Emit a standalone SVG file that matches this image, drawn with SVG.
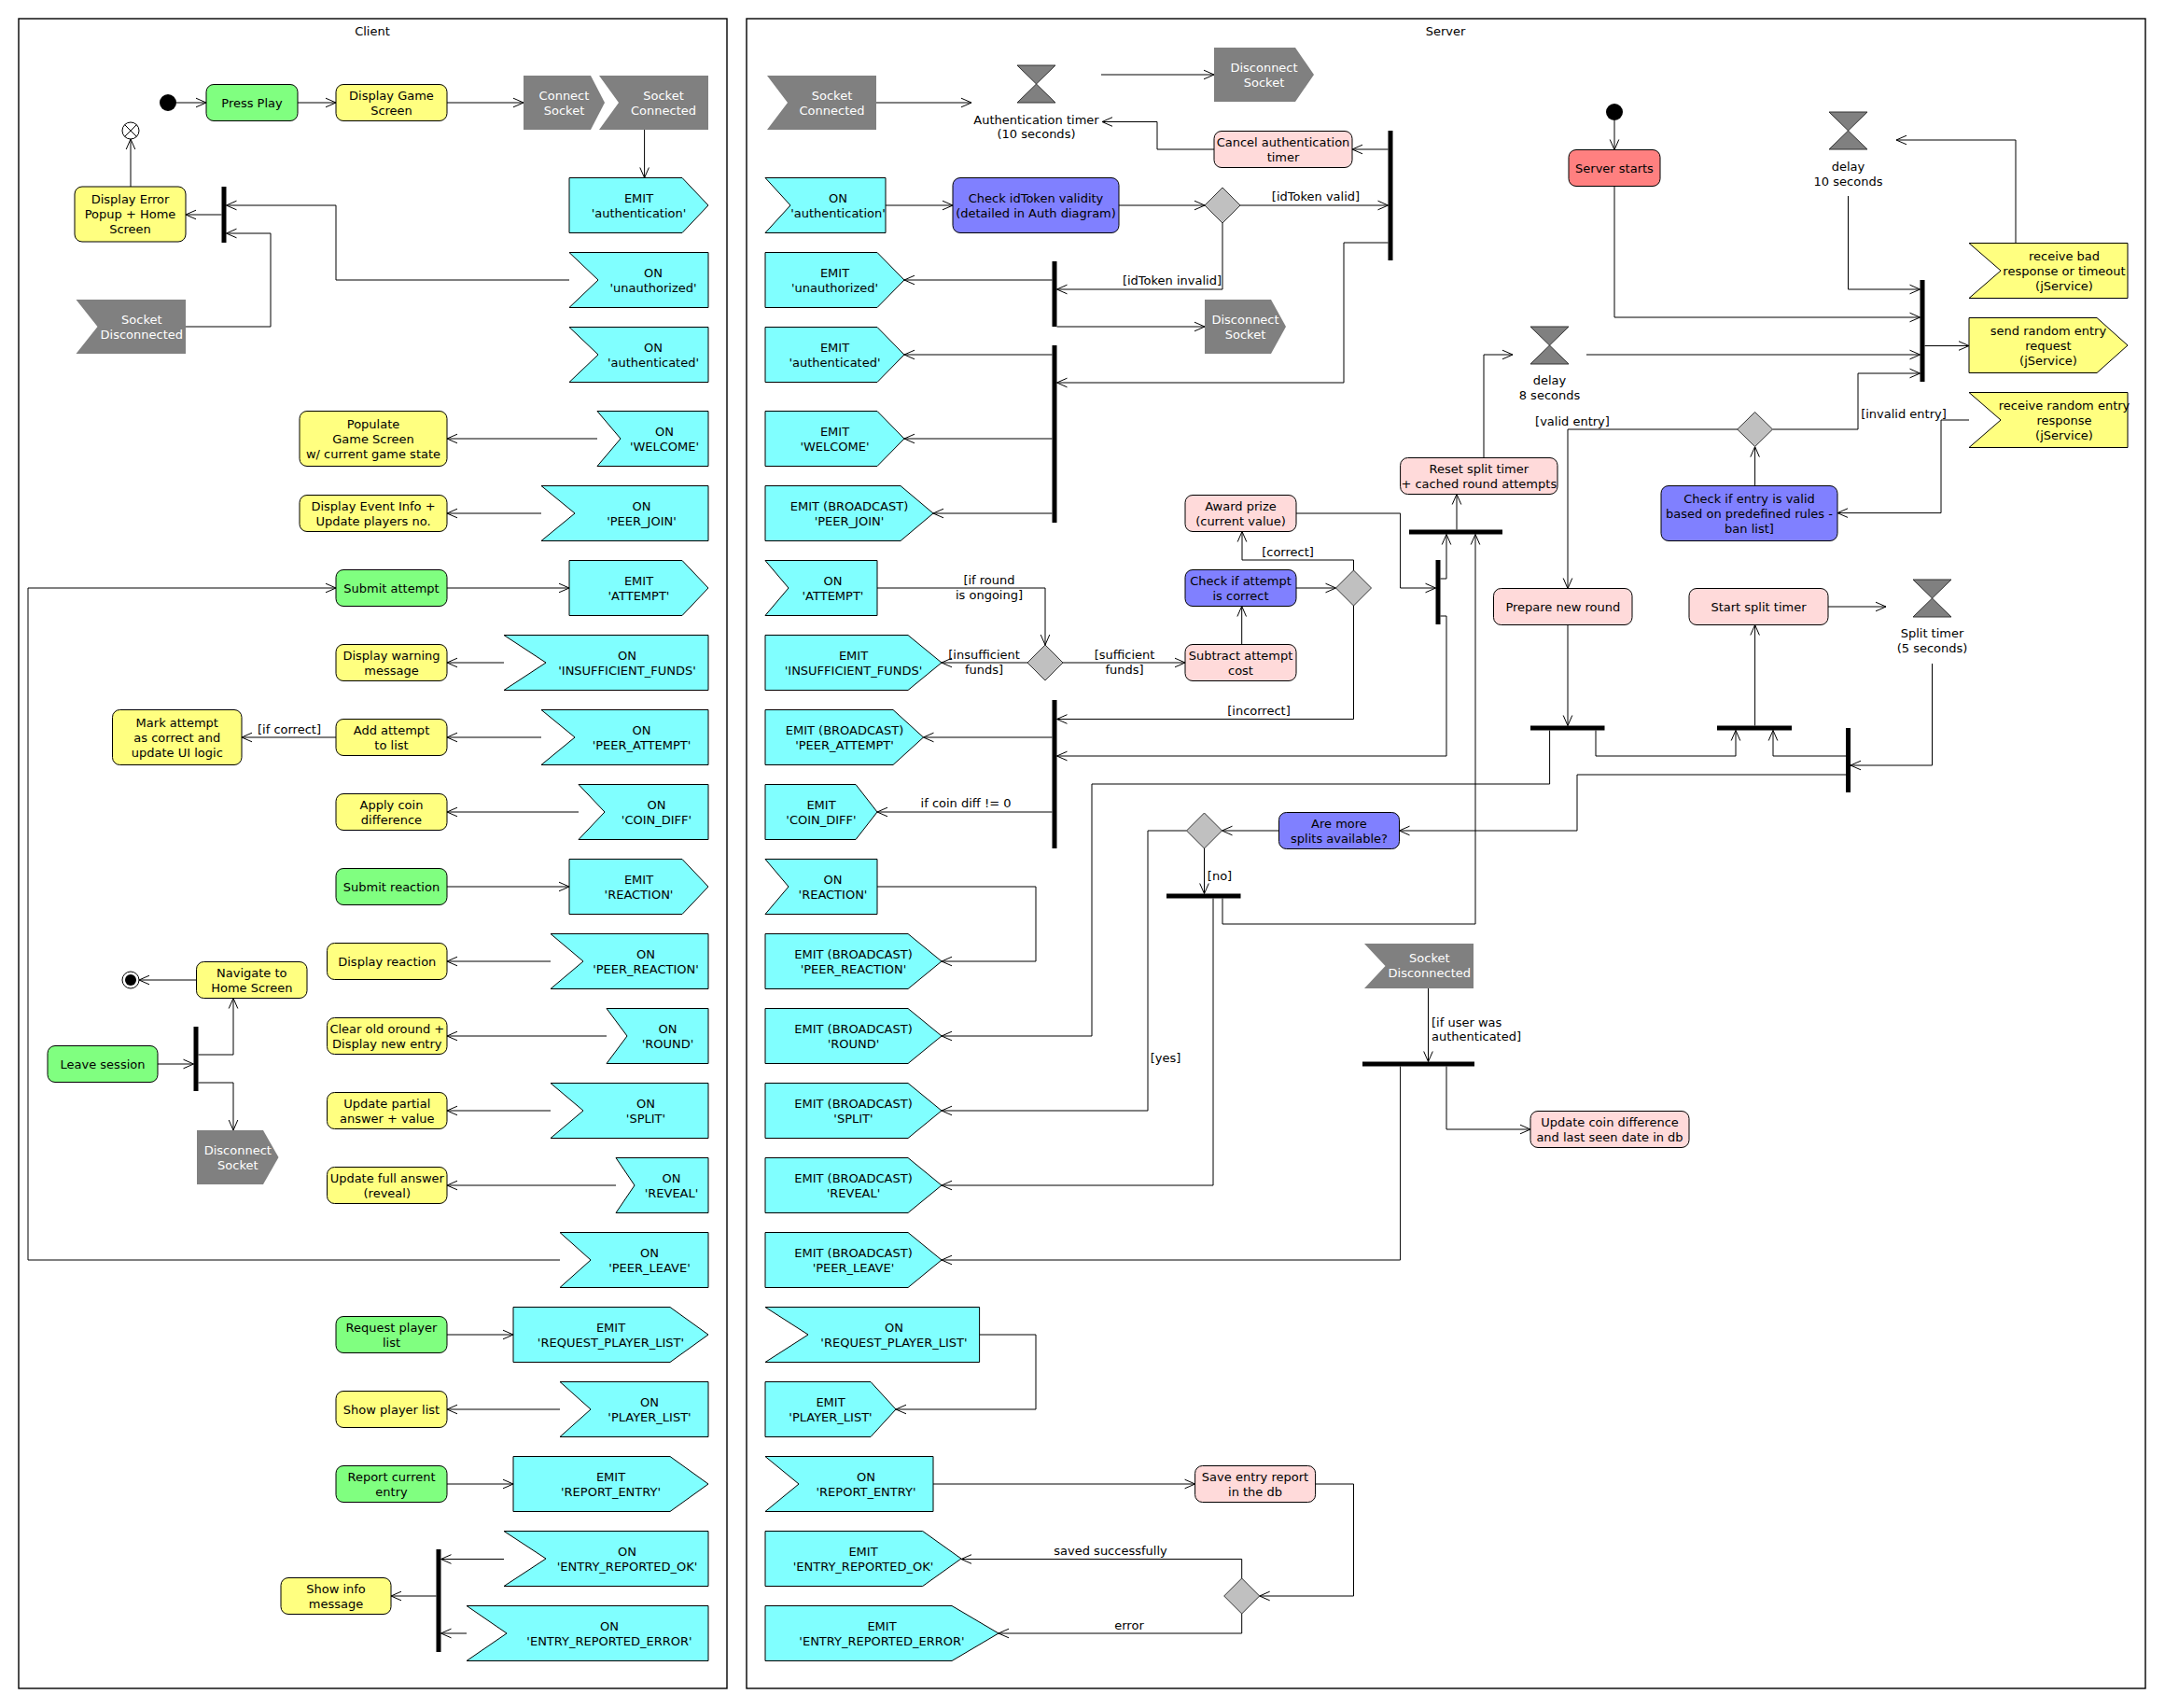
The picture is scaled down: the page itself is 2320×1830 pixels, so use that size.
<svg xmlns="http://www.w3.org/2000/svg" width="2320" height="1830" viewBox="0 0 2320 1830">
<style>
text{font-family:"DejaVu Sans","Liberation Sans",sans-serif;font-size:13px;fill:#000;text-anchor:middle}
text.w{fill:#fff}
text.s{text-anchor:start}
text.e{text-anchor:end}
.frame{fill:none;stroke:#000;stroke-width:1.4}
.act{stroke:#000;stroke-width:1}
.gr{fill:#80FF80}.yl{fill:#FFFF80}.bl{fill:#8080FF}.pk{fill:#FFDADA}.rd{fill:#FF8080}
.cy{fill:#80FFFF;stroke:#000;stroke-width:1}
.gy{fill:#808080}
.hg{fill:#808080;stroke:#333;stroke-width:1}
.dm{fill:#C0C0C0;stroke:#333;stroke-width:1}
.bar{fill:#000}
#connectors path{fill:none;stroke:#000;stroke-width:1}
#connectors path.a{marker-end:url(#arr)}
</style>
<defs>
<marker id="arr" viewBox="0 0 12 12" refX="11.5" refY="6" markerWidth="12" markerHeight="12" markerUnits="userSpaceOnUse" orient="auto"><path d="M0.5,1.2 L11.5,6 L0.5,10.8" fill="none" stroke="#000" stroke-width="1"/></marker>
</defs>
<rect width="2320" height="1830" fill="#fff"/>
<g id="frames">
<rect class="frame" x="20" y="20" width="759" height="1789"/>
<text x="399" y="37.5">Client</text>
<rect class="frame" x="800" y="20" width="1499" height="1789"/>
<text x="1549" y="37.5">Server</text>
</g>
<g id="connectors">
<path class="a" d="M189,110 H221"/>
<path class="a" d="M319,110 H360"/>
<path class="a" d="M479,110 H561"/>
<path class="a" d="M690.6,139 V190.5"/>
<path class="a" d="M610,300 H360 V220 H242.5"/>
<path class="a" d="M199,350 H290 V250 H242.5"/>
<path class="a" d="M237.5,230 H199"/>
<path class="a" d="M140,200 V149"/>
<path class="a" d="M640,470 H479"/>
<path class="a" d="M580,550 H479"/>
<path class="a" d="M479,630 H610"/>
<path class="a" d="M540,710 H479"/>
<path class="a" d="M580,790 H479"/>
<path class="a" d="M360,790 H259"/>
<path class="a" d="M620,870 H479"/>
<path class="a" d="M479,950 H610"/>
<path class="a" d="M590,1030 H479"/>
<path class="a" d="M650,1110 H479"/>
<path class="a" d="M590,1190 H479"/>
<path class="a" d="M660,1270 H479"/>
<path class="a" d="M600,1350 H30 V630 H360"/>
<path class="a" d="M479,1430 H550"/>
<path class="a" d="M600,1510 H479"/>
<path class="a" d="M479,1590 H550"/>
<path class="a" d="M540,1670.5 H472.5"/>
<path class="a" d="M500,1750 H472.5"/>
<path class="a" d="M467.5,1710 H419"/>
<path class="a" d="M169,1140 H207.5"/>
<path class="a" d="M212.5,1130 H250 V1069.5"/>
<path class="a" d="M212.5,1160 H250 V1211"/>
<path class="a" d="M210.5,1050 H149"/>
<path class="a" d="M939,110 H1041"/>
<path class="a" d="M1180,80 H1301"/>
<path class="a" d="M1301,160 H1240 V130.5 H1181"/>
<path class="a" d="M949,220 H1021"/>
<path class="a" d="M1199,220 H1291"/>
<path class="a" d="M1329,220 H1487.5"/>
<path class="a" d="M1487.5,160 H1449"/>
<path class="a" d="M1487.5,260 H1440 V410 H1132.5"/>
<path class="a" d="M1310,239 V310 H1132.5"/>
<path class="a" d="M1127.5,300 H969"/>
<path class="a" d="M1132.5,350 H1291"/>
<path class="a" d="M1127.5,380 H969"/>
<path class="a" d="M1127.5,470 H969"/>
<path class="a" d="M1127.5,550 H1000"/>
<path class="a" d="M940,630 H1120 V691"/>
<path class="a" d="M1101,710 H1009"/>
<path class="a" d="M1139,710 H1270"/>
<path class="a" d="M1330.7,690.5 V649.5"/>
<path class="a" d="M1389,630 H1431.5"/>
<path class="a" d="M1450.5,611 V600 H1331 V569.5"/>
<path class="a" d="M1450.5,649 V770.5 H1132.5"/>
<path class="a" d="M1389,550 H1500.6 V630 H1538.5"/>
<path class="a" d="M1543.5,620 H1550 V572.5"/>
<path class="a" d="M1543.5,660 H1550 V810 H1132.5"/>
<path class="a" d="M1127.5,790 H989.5"/>
<path class="a" d="M1127.5,870 H940"/>
<path class="a" d="M940,950 H1110 V1030 H1009"/>
<path class="a" d="M1561,567.5 V529.5"/>
<path class="a" d="M1590,490.5 V380 H1621"/>
<path class="a" d="M1700,380 H2057.5"/>
<path class="a" d="M1730,129 V160.5"/>
<path class="a" d="M1730,199.5 V340 H2057.5"/>
<path class="a" d="M1980.5,210 V310 H2057.5"/>
<path class="a" d="M2062.5,370.5 H2110"/>
<path class="a" d="M2160,260.5 V150 H2032"/>
<path class="a" d="M2110,450 H2080 V549.6 H1969"/>
<path class="a" d="M1880.6,520.5 V478.6"/>
<path class="a" d="M1899.5,460 H1991 V400 H2057.5"/>
<path class="a" d="M1862,460 H1680 V630.5"/>
<path class="a" d="M1680,669.5 V777.5"/>
<path class="a" d="M1660.6,782.5 V840 H1170 V1110 H1009"/>
<path class="a" d="M1710,782.5 V810 H1860 V782.5"/>
<path class="a" d="M1880.6,777.5 V669.5"/>
<path class="a" d="M1959,650 H2021"/>
<path class="a" d="M2070.5,711 V820 H1983"/>
<path class="a" d="M1978,810 H1900 V782.5"/>
<path class="a" d="M1978,830 H1690 V890 H1499.5"/>
<path class="a" d="M1370.5,890 H1309.5"/>
<path class="a" d="M1271.5,890 H1230 V1190 H1009"/>
<path class="a" d="M1290.5,909 V957.5"/>
<path class="a" d="M1300,962.5 V1270 H1009"/>
<path class="a" d="M1310,962.5 V990 H1581 V572.5"/>
<path class="a" d="M1530.5,1059 V1137.5"/>
<path class="a" d="M1550,1142.5 V1210 H1640"/>
<path class="a" d="M1500.6,1142.5 V1350 H1009"/>
<path class="a" d="M1049.6,1430 H1110 V1510 H960"/>
<path class="a" d="M1000,1590 H1280.6"/>
<path class="a" d="M1409.5,1590 H1450.5 V1710 H1349.7"/>
<path class="a" d="M1330.7,1691 V1670.5 H1030"/>
<path class="a" d="M1330.7,1729 V1750 H1070"/>
</g>
<g id="edge-labels">
<text x="310" y="785.5">[if correct]</text>
<text x="1410" y="214.5">[idToken valid]</text>
<text class="e" x="1309" y="305">[idToken invalid]</text>
<text x="1060" y="625.5">[if round</text>
<text x="1060" y="641.5">is ongoing]</text>
<text x="1054.6" y="705.5">[insufficient</text>
<text x="1054.6" y="721.5">funds]</text>
<text x="1205" y="705.5">[sufficient</text>
<text x="1205" y="721.5">funds]</text>
<text x="1380" y="595.5">[correct]</text>
<text x="1349" y="765.5">[incorrect]</text>
<text x="1035" y="864.5">if coin diff != 0</text>
<text x="1685" y="455.5">[valid entry]</text>
<text x="2040" y="447.5">[invalid entry]</text>
<text x="1249" y="1137.5">[yes]</text>
<text x="1307" y="942.5">[no]</text>
<text class="s" x="1534" y="1099.5">[if user was</text>
<text class="s" x="1534" y="1115">authenticated]</text>
<text x="1190" y="1665.5">saved successfully</text>
<text x="1210" y="1745.5">error</text>
</g>
<!-- Client nodes -->
<g id="c-start"><circle cx="180" cy="110" r="9" fill="#000"/></g>
<g id="c-press-play"><rect class="act gr" x="221" y="90.5" width="98" height="39" rx="8"/><text x="270" y="114.5">Press Play</text></g>
<g id="c-display-game"><rect class="act yl" x="360" y="90.5" width="119" height="39" rx="8"/><text x="419.5" y="106.5">Display Game</text><text x="419.5" y="122.5">Screen</text></g>
<g id="c-connect-socket"><polygon class="gy" points="561,81 633,81 648,110 633,139 561,139"/><text class="w" x="604.5" y="106.5">Connect</text><text class="w" x="604.5" y="122.5">Socket</text></g>
<g id="c-socket-connected"><polygon class="gy" points="642,81 759,81 759,139 642,139 663,110"/><text class="w" x="711" y="106.5">Socket</text><text class="w" x="711" y="122.5">Connected</text></g>
<g id="c-flow-final"><circle cx="140" cy="140" r="9" fill="#fff" stroke="#000"/><path d="M133.6,133.6 L146.4,146.4 M146.4,133.6 L133.6,146.4" stroke="#000"/></g>
<g id="c-display-error"><rect class="act yl" x="80" y="200" width="119" height="59" rx="8"/><text x="139.5" y="218">Display Error</text><text x="139.5" y="234">Popup + Home</text><text x="139.5" y="250">Screen</text></g>
<g id="c-bar1"><rect class="bar" x="237.5" y="200" width="5" height="60"/></g>
<g id="c-socket-disconnected"><polygon class="gy" points="81.5,321 199,321 199,379 81.5,379 104.5,350"/><text class="w" x="151.8" y="346.5">Socket</text><text class="w" x="151.8" y="362.5">Disconnected</text></g>
<g id="c-emit-authentication"><polygon class="cy" points="610,190.5 731,190.5 759,220 731,249.5 610,249.5"/><text x="684.5" y="216.5">EMIT</text><text x="684.5" y="232.5">'authentication'</text></g>
<g id="c-on-unauthorized"><polygon class="cy" points="610,270.5 759,270.5 759,329.5 610,329.5 641,300"/><text x="700" y="296.5">ON</text><text x="700" y="312.5">'unauthorized'</text></g>
<g id="c-on-authenticated"><polygon class="cy" points="610,350.5 759,350.5 759,409.5 610,409.5 641,380"/><text x="700" y="376.5">ON</text><text x="700" y="392.5">'authenticated'</text></g>
<g id="c-populate"><rect class="act yl" x="321" y="440.5" width="158" height="59" rx="8"/><text x="400" y="458.5">Populate</text><text x="400" y="474.5">Game Screen</text><text x="400" y="490.5">w/ current game state</text></g>
<g id="c-on-welcome"><polygon class="cy" points="640,440.5 759,440.5 759,499.5 640,499.5 665,470"/><text x="712" y="466.5">ON</text><text x="712" y="482.5">'WELCOME'</text></g>
<g id="c-display-event"><rect class="act yl" x="321" y="530.5" width="158" height="39" rx="8"/><text x="400" y="546.5">Display Event Info +</text><text x="400" y="562.5">Update players no.</text></g>
<g id="c-on-peer-join"><polygon class="cy" points="580,520.5 759,520.5 759,579.5 580,579.5 616,550"/><text x="687.5" y="546.5">ON</text><text x="687.5" y="562.5">'PEER_JOIN'</text></g>
<g id="c-submit-attempt"><rect class="act gr" x="360" y="610.5" width="119" height="39" rx="8"/><text x="419.5" y="634.5">Submit attempt</text></g>
<g id="c-emit-attempt"><polygon class="cy" points="610,600.5 731,600.5 759,630 731,659.5 610,659.5"/><text x="684.5" y="626.5">EMIT</text><text x="684.5" y="642.5">'ATTEMPT'</text></g>
<g id="c-display-warning"><rect class="act yl" x="360" y="690.5" width="119" height="39" rx="8"/><text x="419.5" y="706.5">Display warning</text><text x="419.5" y="722.5">message</text></g>
<g id="c-on-insufficient"><polygon class="cy" points="540,680.5 759,680.5 759,739.5 540,739.5 585,710"/><text x="672" y="706.5">ON</text><text x="672" y="722.5">'INSUFFICIENT_FUNDS'</text></g>
<g id="c-mark-attempt"><rect class="act yl" x="120.5" y="760.5" width="138.5" height="59" rx="8"/><text x="189.8" y="778.5">Mark attempt</text><text x="189.8" y="794.5">as correct and</text><text x="189.8" y="810.5">update UI logic</text></g>
<g id="c-add-attempt"><rect class="act yl" x="360" y="770.5" width="119" height="39" rx="8"/><text x="419.5" y="786.5">Add attempt</text><text x="419.5" y="802.5">to list</text></g>
<g id="c-on-peer-attempt"><polygon class="cy" points="580,760.5 759,760.5 759,819.5 580,819.5 616,790"/><text x="687.5" y="786.5">ON</text><text x="687.5" y="802.5">'PEER_ATTEMPT'</text></g>
<g id="c-apply-coin"><rect class="act yl" x="360" y="850.5" width="119" height="39" rx="8"/><text x="419.5" y="866.5">Apply coin</text><text x="419.5" y="882.5">difference</text></g>
<g id="c-on-coin-diff"><polygon class="cy" points="620,840.5 759,840.5 759,899.5 620,899.5 648,870"/><text x="703.5" y="866.5">ON</text><text x="703.5" y="882.5">'COIN_DIFF'</text></g>
<g id="c-submit-reaction"><rect class="act gr" x="360" y="930.5" width="119" height="39" rx="8"/><text x="419.5" y="954.5">Submit reaction</text></g>
<g id="c-emit-reaction"><polygon class="cy" points="610,920.5 731,920.5 759,950 731,979.5 610,979.5"/><text x="684.5" y="946.5">EMIT</text><text x="684.5" y="962.5">'REACTION'</text></g>
<g id="c-display-reaction"><rect class="act yl" x="350.5" y="1010.5" width="128.5" height="39" rx="8"/><text x="414.8" y="1034.5">Display reaction</text></g>
<g id="c-on-peer-reaction"><polygon class="cy" points="590,1000.5 759,1000.5 759,1059.5 590,1059.5 625,1030"/><text x="692" y="1026.5">ON</text><text x="692" y="1042.5">'PEER_REACTION'</text></g>
<g id="c-final"><circle cx="140" cy="1050" r="9" fill="#fff" stroke="#000"/><circle cx="140" cy="1050" r="6" fill="#000"/></g>
<g id="c-navigate"><rect class="act yl" x="210.5" y="1030.5" width="118.5" height="39" rx="8"/><text x="269.8" y="1046.5">Navigate to</text><text x="269.8" y="1062.5">Home Screen</text></g>
<g id="c-clear-old"><rect class="act yl" x="350.5" y="1090.5" width="128.5" height="39" rx="8"/><text x="414.8" y="1106.5">Clear old oround +</text><text x="414.8" y="1122.5">Display new entry</text></g>
<g id="c-on-round"><polygon class="cy" points="650,1080.5 759,1080.5 759,1139.5 650,1139.5 672,1110"/><text x="715.5" y="1106.5">ON</text><text x="715.5" y="1122.5">'ROUND'</text></g>
<g id="c-leave-session"><rect class="act gr" x="51" y="1120.5" width="118" height="39" rx="8"/><text x="110" y="1144.5">Leave session</text></g>
<g id="c-bar2"><rect class="bar" x="207.5" y="1100" width="5" height="69"/></g>
<g id="c-update-partial"><rect class="act yl" x="350.5" y="1170.5" width="128.5" height="39" rx="8"/><text x="414.8" y="1186.5">Update partial</text><text x="414.8" y="1202.5">answer + value</text></g>
<g id="c-on-split"><polygon class="cy" points="590,1160.5 759,1160.5 759,1219.5 590,1219.5 625,1190"/><text x="692" y="1186.5">ON</text><text x="692" y="1202.5">'SPLIT'</text></g>
<g id="c-disconnect-socket"><polygon class="gy" points="211,1211 282,1211 298.5,1240 282,1269 211,1269"/><text class="w" x="254.8" y="1236.5">Disconnect</text><text class="w" x="254.8" y="1252.5">Socket</text></g>
<g id="c-update-full"><rect class="act yl" x="350.5" y="1250.5" width="128.5" height="39" rx="8"/><text x="414.8" y="1266.5">Update full answer</text><text x="414.8" y="1282.5">(reveal)</text></g>
<g id="c-on-reveal"><polygon class="cy" points="660,1240.5 759,1240.5 759,1299.5 660,1299.5 680,1270"/><text x="719.5" y="1266.5">ON</text><text x="719.5" y="1282.5">'REVEAL'</text></g>
<g id="c-on-peer-leave"><polygon class="cy" points="600,1320.5 759,1320.5 759,1379.5 600,1379.5 633,1350"/><text x="696" y="1346.5">ON</text><text x="696" y="1362.5">'PEER_LEAVE'</text></g>
<g id="c-request-player"><rect class="act gr" x="360" y="1410.5" width="119" height="39" rx="8"/><text x="419.5" y="1426.5">Request player</text><text x="419.5" y="1442.5">list</text></g>
<g id="c-emit-request-player-list"><polygon class="cy" points="550,1400.5 718,1400.5 759,1430 718,1459.5 550,1459.5"/><text x="654.5" y="1426.5">EMIT</text><text x="654.5" y="1442.5">'REQUEST_PLAYER_LIST'</text></g>
<g id="c-show-player-list"><rect class="act yl" x="360" y="1490.5" width="119" height="39" rx="8"/><text x="419.5" y="1514.5">Show player list</text></g>
<g id="c-on-player-list"><polygon class="cy" points="600,1480.5 759,1480.5 759,1539.5 600,1539.5 633,1510"/><text x="696" y="1506.5">ON</text><text x="696" y="1522.5">'PLAYER_LIST'</text></g>
<g id="c-report-entry"><rect class="act gr" x="360" y="1570.5" width="119" height="39" rx="8"/><text x="419.5" y="1586.5">Report current</text><text x="419.5" y="1602.5">entry</text></g>
<g id="c-emit-report-entry"><polygon class="cy" points="550,1560.5 718,1560.5 759,1590 718,1619.5 550,1619.5"/><text x="654.5" y="1586.5">EMIT</text><text x="654.5" y="1602.5">'REPORT_ENTRY'</text></g>
<g id="c-on-entry-ok"><polygon class="cy" points="540,1640.5 759,1640.5 759,1699.5 540,1699.5 585,1670"/><text x="672" y="1666.5">ON</text><text x="672" y="1682.5">'ENTRY_REPORTED_OK'</text></g>
<g id="c-on-entry-error"><polygon class="cy" points="500,1720.5 759,1720.5 759,1779.5 500,1779.5 543,1750"/><text x="653" y="1746.5">ON</text><text x="653" y="1762.5">'ENTRY_REPORTED_ERROR'</text></g>
<g id="c-bar3"><rect class="bar" x="467.5" y="1660" width="5" height="110"/></g>
<g id="c-show-info"><rect class="act yl" x="301" y="1690.5" width="118" height="39" rx="8"/><text x="360" y="1706.5">Show info</text><text x="360" y="1722.5">message</text></g>
<!-- Server nodes -->
<g id="s-socket-connected"><polygon class="gy" points="822,81 939,81 939,139 822,139 844,110"/><text class="w" x="891.5" y="106.5">Socket</text><text class="w" x="891.5" y="122.5">Connected</text></g>
<g id="s-auth-timer"><polygon class="hg" points="1090,70 1131,70 1090,110 1131,110"/><text x="1110.5" y="132.5">Authentication timer</text><text x="1110.5" y="148">(10 seconds)</text></g>
<g id="s-disconnect-socket1"><polygon class="gy" points="1301,51 1388,51 1408,80 1388,109 1301,109"/><text class="w" x="1354.5" y="76.5">Disconnect</text><text class="w" x="1354.5" y="92.5">Socket</text></g>
<g id="s-cancel-timer"><rect class="act pk" x="1301" y="140.5" width="148" height="39" rx="8"/><text x="1375" y="156.5">Cancel authentication</text><text x="1375" y="172.5">timer</text></g>
<g id="s-on-authentication"><polygon class="cy" points="820,190.5 949,190.5 949,249.5 820,249.5 847,220"/><text x="898" y="216.5">ON</text><text x="898" y="232.5">'authentication'</text></g>
<g id="s-check-idtoken"><rect class="act bl" x="1021" y="190.5" width="178" height="59" rx="8"/><text x="1110" y="216.5">Check idToken validity</text><text x="1110" y="232.5">(detailed in Auth diagram)</text></g>
<g id="s-dec1"><polygon class="dm" points="1310,201 1329,220 1310,239 1291,220"/></g>
<g id="s-bar3"><rect class="bar" x="1487.5" y="140" width="5" height="139"/></g>
<g id="s-bar1"><rect class="bar" x="1127.5" y="280" width="5" height="70"/></g>
<g id="s-bar2"><rect class="bar" x="1127.5" y="370" width="5" height="190"/></g>
<g id="s-emit-unauthorized"><polygon class="cy" points="820,270.5 940,270.5 969,300 940,329.5 820,329.5"/><text x="894.5" y="296.5">EMIT</text><text x="894.5" y="312.5">'unauthorized'</text></g>
<g id="s-disconnect-socket2"><polygon class="gy" points="1291,321 1362,321 1378,350 1362,379 1291,379"/><text class="w" x="1334.5" y="346.5">Disconnect</text><text class="w" x="1334.5" y="362.5">Socket</text></g>
<g id="s-emit-authenticated"><polygon class="cy" points="820,350.5 940,350.5 969,380 940,409.5 820,409.5"/><text x="894.5" y="376.5">EMIT</text><text x="894.5" y="392.5">'authenticated'</text></g>
<g id="s-emit-welcome"><polygon class="cy" points="820,440.5 940,440.5 969,470 940,499.5 820,499.5"/><text x="894.5" y="466.5">EMIT</text><text x="894.5" y="482.5">'WELCOME'</text></g>
<g id="s-emit-peer-join"><polygon class="cy" points="820,520.5 965,520.5 1000,550 965,579.5 820,579.5"/><text x="910" y="546.5">EMIT (BROADCAST)</text><text x="910" y="562.5">'PEER_JOIN'</text></g>
<g id="s-start"><circle cx="1730" cy="120" r="9" fill="#000"/></g>
<g id="s-server-starts"><rect class="act rd" x="1681" y="160.5" width="98" height="39" rx="8"/><text x="1730" y="184.5">Server starts</text></g>
<g id="s-delay10"><polygon class="hg" points="1960,120 2001,120 1960,160 2001,160"/><text x="1980.5" y="182.5">delay</text><text x="1980.5" y="198.5">10 seconds</text></g>
<g id="s-receive-bad"><polygon class="act yl" points="2110,260.5 2280,260.5 2280,319.5 2110,319.5 2144,290"/><text x="2212" y="278.5">receive bad</text><text x="2212" y="294.5">response or timeout</text><text x="2212" y="310.5">(jService)</text></g>
<g id="s-big-bar"><rect class="bar" x="2057.5" y="300" width="5" height="109"/></g>
<g id="s-send-random"><polygon class="act yl" points="2110,340.5 2247,340.5 2280,370 2247,399.5 2110,399.5"/><text x="2195" y="358.5">send random entry</text><text x="2195" y="374.5">request</text><text x="2195" y="390.5">(jService)</text></g>
<g id="s-receive-random"><polygon class="act yl" points="2110,420.5 2280,420.5 2280,479.5 2110,479.5 2144,450"/><text x="2212" y="438.5">receive random entry</text><text x="2212" y="454.5">response</text><text x="2212" y="470.5">(jService)</text></g>
<g id="s-delay8"><polygon class="hg" points="1640,350 1681,350 1640,390 1681,390"/><text x="1660.5" y="411.5">delay</text><text x="1660.5" y="428">8 seconds</text></g>
<g id="s-dec6"><polygon class="dm" points="1880.6,441.5 1899.5,460 1880.6,478.5 1861.7,460"/></g>
<g id="s-check-entry"><rect class="act bl" x="1780" y="520.5" width="189" height="59" rx="8"/><text x="1874.5" y="538.5">Check if entry is valid</text><text x="1874.5" y="554.5">based on predefined rules -</text><text x="1874.5" y="570.5">ban list]</text></g>
<g id="s-reset-split"><rect class="act pk" x="1500.6" y="490.5" width="168.4" height="39" rx="8"/><text x="1584.8" y="506.5">Reset split timer</text><text x="1584.8" y="522.5">+ cached round attempts</text></g>
<g id="s-bar-reset"><rect class="bar" x="1510" y="567.5" width="100" height="5"/></g>
<g id="s-award-prize"><rect class="act pk" x="1270" y="530.5" width="119" height="39" rx="8"/><text x="1329.5" y="546.5">Award prize</text><text x="1329.5" y="562.5">(current value)</text></g>
<g id="s-on-attempt"><polygon class="cy" points="820,600.5 940,600.5 940,659.5 820,659.5 845,630"/><text x="892.5" y="626.5">ON</text><text x="892.5" y="642.5">'ATTEMPT'</text></g>
<g id="s-check-attempt"><rect class="act bl" x="1270" y="610.5" width="119" height="39" rx="8"/><text x="1329.5" y="626.5">Check if attempt</text><text x="1329.5" y="642.5">is correct</text></g>
<g id="s-dec3"><polygon class="dm" points="1450.5,611 1469.5,630 1450.5,649 1431.5,630"/></g>
<g id="s-bar5"><rect class="bar" x="1538.5" y="600" width="5" height="69"/></g>
<g id="s-prepare-round"><rect class="act pk" x="1600.5" y="630.5" width="148.5" height="39" rx="8"/><text x="1674.8" y="654.5">Prepare new round</text></g>
<g id="s-start-split"><rect class="act pk" x="1810" y="630.5" width="149" height="39" rx="8"/><text x="1884.5" y="654.5">Start split timer</text></g>
<g id="s-split-timer"><polygon class="hg" points="2050,621 2091,621 2050,661 2091,661"/><text x="2070.5" y="682.5">Split timer</text><text x="2070.5" y="698.5">(5 seconds)</text></g>
<g id="s-emit-insufficient"><polygon class="cy" points="820,680.5 973,680.5 1009,710 973,739.5 820,739.5"/><text x="914.5" y="706.5">EMIT</text><text x="914.5" y="722.5">'INSUFFICIENT_FUNDS'</text></g>
<g id="s-dec2"><polygon class="dm" points="1120,691 1139,710 1120,729 1101,710"/></g>
<g id="s-subtract"><rect class="act pk" x="1270" y="690.5" width="119" height="39" rx="8"/><text x="1329.5" y="706.5">Subtract attempt</text><text x="1329.5" y="722.5">cost</text></g>
<g id="s-bar4"><rect class="bar" x="1127.5" y="750" width="5" height="159"/></g>
<g id="s-emit-peer-attempt"><polygon class="cy" points="820,760.5 957,760.5 989.5,790 957,819.5 820,819.5"/><text x="905" y="786.5">EMIT (BROADCAST)</text><text x="905" y="802.5">'PEER_ATTEMPT'</text></g>
<g id="s-bar6"><rect class="bar" x="1640" y="777.5" width="79.5" height="5"/></g>
<g id="s-bar7"><rect class="bar" x="1840" y="777.5" width="80" height="5"/></g>
<g id="s-bar8"><rect class="bar" x="1978" y="780" width="5" height="69"/></g>
<g id="s-emit-coin-diff"><polygon class="cy" points="820,840.5 917,840.5 940,870 917,899.5 820,899.5"/><text x="880" y="866.5">EMIT</text><text x="880" y="882.5">'COIN_DIFF'</text></g>
<g id="s-more-splits"><rect class="act bl" x="1370.5" y="870.5" width="129" height="39" rx="8"/><text x="1435" y="886.5">Are more</text><text x="1435" y="902.5">splits available?</text></g>
<g id="s-dec4"><polygon class="dm" points="1290.5,871 1309.5,890 1290.5,909 1271.5,890"/></g>
<g id="s-on-reaction"><polygon class="cy" points="820,920.5 940,920.5 940,979.5 820,979.5 845,950"/><text x="892.5" y="946.5">ON</text><text x="892.5" y="962.5">'REACTION'</text></g>
<g id="s-bar9"><rect class="bar" x="1250" y="957.5" width="79.5" height="5"/></g>
<g id="s-emit-peer-reaction"><polygon class="cy" points="820,1000.5 973,1000.5 1009,1030 973,1059.5 820,1059.5"/><text x="914.5" y="1026.5">EMIT (BROADCAST)</text><text x="914.5" y="1042.5">'PEER_REACTION'</text></g>
<g id="s-socket-disconnected"><polygon class="gy" points="1462,1011 1579,1011 1579,1059 1462,1059 1484.5,1035"/><text class="w" x="1531.8" y="1031.3">Socket</text><text class="w" x="1531.8" y="1047.1">Disconnected</text></g>
<g id="s-emit-round"><polygon class="cy" points="820,1080.5 973,1080.5 1009,1110 973,1139.5 820,1139.5"/><text x="914.5" y="1106.5">EMIT (BROADCAST)</text><text x="914.5" y="1122.5">'ROUND'</text></g>
<g id="s-bar10"><rect class="bar" x="1460" y="1137.5" width="120" height="5"/></g>
<g id="s-emit-split"><polygon class="cy" points="820,1160.5 973,1160.5 1009,1190 973,1219.5 820,1219.5"/><text x="914.5" y="1186.5">EMIT (BROADCAST)</text><text x="914.5" y="1202.5">'SPLIT'</text></g>
<g id="s-update-coin"><rect class="act pk" x="1640" y="1190.5" width="170" height="39" rx="8"/><text x="1725" y="1206.5">Update coin difference</text><text x="1725" y="1222.5">and last seen date in db</text></g>
<g id="s-emit-reveal"><polygon class="cy" points="820,1240.5 973,1240.5 1009,1270 973,1299.5 820,1299.5"/><text x="914.5" y="1266.5">EMIT (BROADCAST)</text><text x="914.5" y="1282.5">'REVEAL'</text></g>
<g id="s-emit-peer-leave"><polygon class="cy" points="820,1320.5 973,1320.5 1009,1350 973,1379.5 820,1379.5"/><text x="914.5" y="1346.5">EMIT (BROADCAST)</text><text x="914.5" y="1362.5">'PEER_LEAVE'</text></g>
<g id="s-on-request-player-list"><polygon class="cy" points="820,1400.5 1049.6,1400.5 1049.6,1459.5 820,1459.5 866,1430"/><text x="958" y="1426.5">ON</text><text x="958" y="1442.5">'REQUEST_PLAYER_LIST'</text></g>
<g id="s-emit-player-list"><polygon class="cy" points="820,1480.5 933,1480.5 960,1510 933,1539.5 820,1539.5"/><text x="890" y="1506.5">EMIT</text><text x="890" y="1522.5">'PLAYER_LIST'</text></g>
<g id="s-on-report-entry"><polygon class="cy" points="820,1560.5 1000,1560.5 1000,1619.5 820,1619.5 856,1590"/><text x="928" y="1586.5">ON</text><text x="928" y="1602.5">'REPORT_ENTRY'</text></g>
<g id="s-save-entry"><rect class="act pk" x="1280.6" y="1570.5" width="129" height="39" rx="8"/><text x="1345" y="1586.5">Save entry report</text><text x="1345" y="1602.5">in the db</text></g>
<g id="s-emit-entry-ok"><polygon class="cy" points="820,1640.5 988.7,1640.5 1030,1670 988.7,1699.5 820,1699.5"/><text x="925" y="1666.5">EMIT</text><text x="925" y="1682.5">'ENTRY_REPORTED_OK'</text></g>
<g id="s-dec5"><polygon class="dm" points="1330.7,1691 1349.7,1710 1330.7,1729 1311.7,1710"/></g>
<g id="s-emit-entry-error"><polygon class="cy" points="820,1720.5 1020,1720.5 1070,1750 1020,1779.5 820,1779.5"/><text x="945" y="1746.5">EMIT</text><text x="945" y="1762.5">'ENTRY_REPORTED_ERROR'</text></g>
</svg>
